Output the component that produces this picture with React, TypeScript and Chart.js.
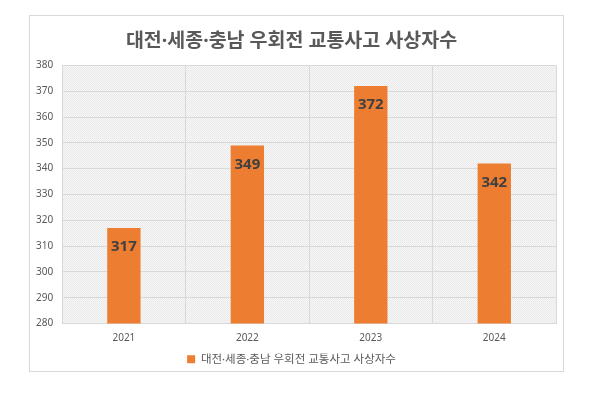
import React, { useEffect, useRef } from "react";
import { Chart, registerables } from "chart.js";

Chart.register(...registerables);

const categories = ["2021", "2022", "2023", "2024"];
const values = [317, 349, 372, 342];
const seriesLabel = "대전·세종·충남 우회전 교통사고 사상자수";
const titleText = "대전·세종·충남 우회전 교통사고 사상자수";
const yMin = 280;
const yMax = 380;
const yStep = 10;

const FONT = "'Noto Sans', 'Noto Sans CJK KR', sans-serif";

const bgPlugin = {
  id: "plotBg",
  beforeDraw(chart: any) {
    const { ctx, chartArea } = chart;
    if (!chartArea) return;
    const pc = document.createElement("canvas");
    pc.width = 2;
    pc.height = 2;
    const p = pc.getContext("2d")!;
    p.fillStyle = "#f7f7f7";
    p.fillRect(0, 0, 2, 2);
    p.fillStyle = "#e9e9e9";
    p.fillRect(0, 0, 1, 1);
    p.fillRect(1, 1, 1, 1);
    const pat = ctx.createPattern(pc, "repeat");
    ctx.save();
    ctx.fillStyle = pat;
    ctx.fillRect(chartArea.left, chartArea.top, chartArea.right - chartArea.left, chartArea.bottom - chartArea.top);
    ctx.restore();
  },
};

const labelPlugin = {
  id: "barLabels",
  afterDatasetsDraw(chart: any) {
    const { ctx } = chart;
    const meta = chart.getDatasetMeta(0);
    ctx.save();
    ctx.font = `bold 15px ${FONT}`;
    ctx.fillStyle = "#404040";
    ctx.textAlign = "center";
    ctx.textBaseline = "middle";
    meta.data.forEach((bar: any, i: number) => {
      ctx.fillText(String(values[i]), bar.x, bar.y + 19);
    });
    ctx.restore();
  },
};

export default function App() {
  const ref = useRef<HTMLCanvasElement>(null);
  useEffect(() => {
    const chart = new Chart(ref.current!, {
      type: "bar",
      data: {
        labels: categories,
        datasets: [
          {
            label: seriesLabel,
            data: values,
            backgroundColor: "#ed7d31",
            borderWidth: 0,
            categoryPercentage: 1,
            barPercentage: 0.27,
          },
        ],
      },
      options: {
        animation: false,
        responsive: false,
        maintainAspectRatio: false,
        layout: { padding: { left: -3, right: 7, top: 8, bottom: -4 } },
        plugins: {
          title: {
            display: true,
            text: titleText,
            color: "#595959",
            font: { family: FONT, size: 19.5, weight: "bold" },
            padding: { top: 6, bottom: 12 },
          },
          legend: {
            position: "bottom",
            labels: {
              color: "#595959",
              font: { family: FONT, size: 11.5 },
              boxWidth: 8,
              boxHeight: 8,
              padding: 0,
            },
          },
          tooltip: { enabled: false },
        },
        scales: {
          x: {
            grid: { color: "#d9d9d9", offset: true, drawTicks: false },
            border: { color: "#d9d9d9" },
            ticks: { color: "#595959", font: { family: FONT, size: 10 }, padding: 9 },
          },
          y: {
            min: yMin,
            max: yMax,
            ticks: { stepSize: yStep, color: "#595959", font: { family: FONT, size: 10 }, padding: 9 },
            grid: { color: "#d9d9d9", drawTicks: false },
            border: { display: false },
          },
        },
      },
      plugins: [bgPlugin, labelPlugin],
    });
    return () => chart.destroy();
  }, []);
  return (
    <div
      style={{
        position: "absolute",
        left: 29,
        top: 15,
        width: 533,
        height: 355,
        border: "1px solid #d9d9d9",
        background: "#fff",
      }}
    >
      <canvas ref={ref} width={533} height={355} style={{ display: "block" }} />
    </div>
  );
}
